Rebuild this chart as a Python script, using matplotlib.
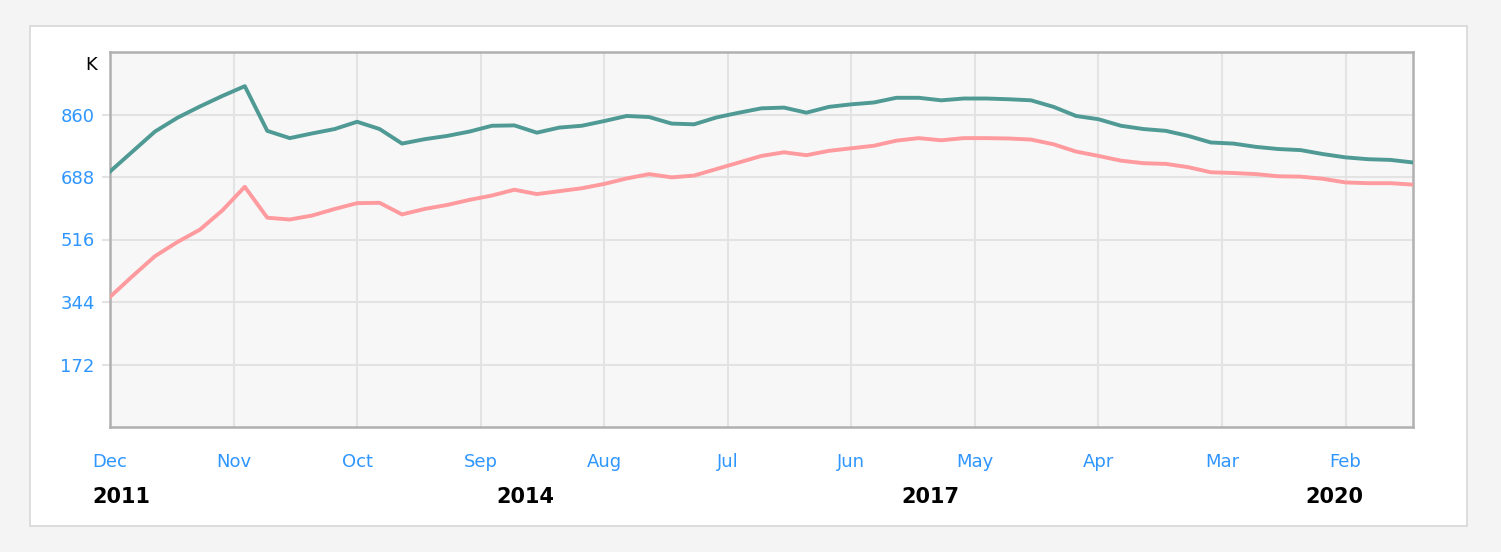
import numpy as np
import matplotlib
matplotlib.use("Agg")
import matplotlib.pyplot as plt
from matplotlib.patches import Rectangle
import matplotlib.transforms as mtransforms

# ==================================================
# Data (values in thousands, one point every 2 months from Dec 2011)
# ==================================================

months = np.arange(0, 117, 2)

teal_values = [703, 758, 813, 851, 882, 911, 938, 815, 795, 808,
               820, 840, 820, 780, 792, 801, 813, 829, 830, 810,
               824, 829, 842, 856, 853, 835, 833, 852, 865, 877,
               879, 865, 881, 888, 893, 906, 906, 899, 904, 904,
               902, 899, 881, 856, 847, 829, 820, 815, 801, 783,
               780, 771, 765, 762, 751, 742, 737, 735, 728]

pink_values = [358, 415, 470, 509, 543, 596, 661, 576, 571, 582,
               600, 616, 617, 585, 600, 611, 625, 637, 653, 641,
               649, 657, 669, 684, 696, 687, 692, 710, 728, 746,
               756, 748, 760, 767, 774, 788, 795, 789, 795, 795,
               794, 791, 778, 758, 746, 733, 726, 724, 715, 701,
               699, 696, 690, 689, 683, 673, 671, 671, 667]

month_ticks = [0, 11, 22, 33, 44, 55, 66, 77, 88, 99, 110]
month_labels = ['Dec', 'Nov', 'Oct', 'Sep', 'Aug', 'Jul',
                'Jun', 'May', 'Apr', 'Mar', 'Feb']

year_positions = [1, 37, 73, 109]
year_labels = ['2011', '2014', '2017', '2020']

y_ticks = [172, 344, 516, 688, 860]

# ==================================================
# Figure
# ==================================================

W, H = 1501, 552
fig = plt.figure(figsize=(W / 100, H / 100), dpi=100, facecolor='#f4f4f4')

ax = fig.add_axes([110 / W, (H - 427) / H, (1413 - 110) / W, (427 - 52) / H])
ax.set_zorder(2)

# white card behind the chart
card = Rectangle((30 / W, (H - 526) / H), (1467 - 30) / W, (526 - 26) / H,
                 transform=fig.transFigure, facecolor='white',
                 edgecolor='#d8d8d8', linewidth=1.2, zorder=-10)
fig.patches.append(card)

ax.set_facecolor('#f7f7f7')

ax.plot(months, teal_values, color='#4f9a94', linewidth=2.8, solid_joinstyle='round', zorder=3)
ax.plot(months, pink_values, color='#ff9a9e', linewidth=2.8, solid_joinstyle='round', zorder=3)

ax.set_xlim(0, 116)
ax.set_ylim(0, 1032)

ax.set_xticks(month_ticks)
ax.set_xticklabels(month_labels, fontsize=13, color='#2f96ff')
ax.set_yticks(y_ticks)
ax.set_yticklabels([str(v) for v in y_ticks], fontsize=13, color='#2f96ff')

ax.tick_params(axis='x', length=0, pad=19)
ax.tick_params(axis='y', length=6, width=1.5, color='#e3e3e3', pad=5)

ax.grid(True, color='#e3e3e3', linewidth=1.5, zorder=1)
ax.set_axisbelow(True)

for side in ['left', 'right', 'top', 'bottom']:
    ax.spines[side].set_color('#b0b0b0')
    ax.spines[side].set_linewidth(1.8)

trans = mtransforms.blended_transform_factory(ax.transData, ax.transAxes)
for xp, lab in zip(year_positions, year_labels):
    ax.text(xp, -0.187, lab, transform=trans, ha='center', va='center',
            fontsize=15, fontweight='bold', color='black')

ax.text(-0.01, 0.965, 'K', transform=ax.transAxes, ha='right', va='center',
        fontsize=13, color='black')

plt.savefig('out.png', dpi=100, facecolor=fig.get_facecolor())
